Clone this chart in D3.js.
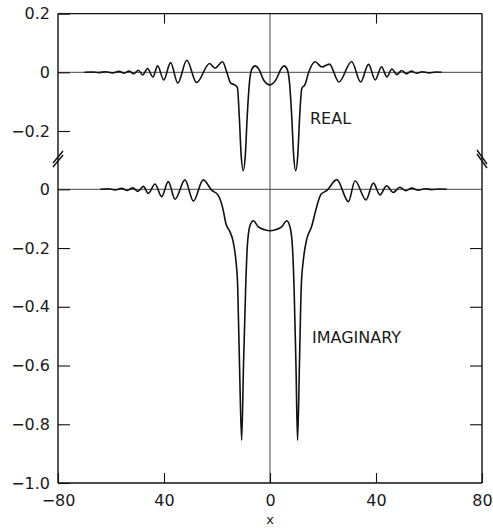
<!DOCTYPE html>
<html>
<head>
<meta charset="UTF-8">
<script src="https://d3js.org/d3.v7.min.js"></script>
<style>
  body { margin: 0; background: #fff; }
  svg { display: block; }
  text { font-family: "DejaVu Sans", "Liberation Sans", sans-serif; fill: #1a1a1a; }
  .curve { fill: none; stroke: #111; stroke-width: 1.6; stroke-linejoin: round; }
  .frame { stroke: #111; stroke-width: 1.4; }
  .ref { stroke: #444; stroke-width: 1; }
  .axis path { display: none; }
  .axis line { stroke: #111; stroke-width: 1.1; }
  .axis text { font-size: 16px; }
</style>
</head>
<body>
<svg id="chart" width="493" height="530"></svg>
<script>
// values
const realX = [-70, -67, -64.5, -62, -59.5, -57, -55, -53.2, -51.4, -49.7, -48, -46.2, -44.2, -42.4, -40.1,
  -37.5, -34.8, -31.4, -27.7, -22.8, -20.8, -17.9, -16.3, -14.8, -13.3, -12.3, -11.6, -10.9, -10.1, -9.3,
  -8.6, -7.7, -6.9, -5.6, -4.3, -2.3, 0, 2.2, 4.2, 5.3, 6.5, 7.3, 8.2, 8.9, 9.7, 10.5, 11.2, 12.0, 13.2,
  14.6, 17.0, 19.6, 22.4, 26.0, 30.8, 34.2, 37.2, 39.7, 42.1, 44.1, 46.0, 47.9, 49.7, 51.5, 53.3, 55.3,
  57.5, 60, 62.5, 64.8];
const realV = [0, 0.001, -0.001, 0.002, -0.002, 0.003, -0.003, 0.004, -0.005, 0.007, -0.009, 0.013, -0.016, 0.022, -0.026,
  0.033, -0.037, 0.041, -0.035, 0.030, 0.014, 0.036, 0.0, -0.037, -0.043, -0.052, -0.15, -0.28, -0.335, -0.28,
  -0.15, -0.03, 0.010, 0.022, 0.012, -0.028, -0.043, -0.026, 0.012, 0.022, 0.010, -0.03, -0.15, -0.28, -0.335, -0.28, -0.15, -0.055, -0.042,
  0.0, 0.036, 0.018, 0.028, -0.033, 0.037, -0.033, 0.027, -0.026, 0.019, -0.016, 0.011, -0.008, 0.006, -0.005, 0.004, -0.003,
  0.002, -0.002, 0.001, 0];

const imagX = [-64, -61, -58.5, -56, -53.8, -51.8, -49.8, -47.8, -45.9, -43.4, -40.9, -38.4, -35.8, -32.1, -28.9,
  -25.2, -22.0, -19.6, -17.8, -16.6, -15.1, -13.9, -12.9, -12.2, -11.5, -10.7, -10.0, -9.2, -8.6, -7.6,
  -6.3, -4.5, -2, 0, 2, 4.5, 6.3, 7.6, 8.5, 9.1, 9.8, 10.4, 11.1, 11.8, 12.6, 13.8, 15.7, 17.6, 19.2,
  21.5, 25.2, 29.6, 32.1, 36.2, 39, 41.5, 44, 46.5, 49, 51.3, 53.5, 56, 58.5, 61, 64, 66.7];
const imagV = [0, 0.002, -0.002, 0.003, -0.004, 0.005, -0.007, 0.010, -0.014, 0.018, -0.025, 0.026, -0.034, 0.032, -0.040,
  0.032, -0.003, -0.020, -0.065, -0.118, -0.145, -0.178, -0.24, -0.33, -0.6, -0.855, -0.6, -0.34, -0.2, -0.125,
  -0.107, -0.127, -0.138, -0.141, -0.138, -0.127, -0.107, -0.13, -0.2, -0.34, -0.6, -0.855, -0.6, -0.33, -0.24, -0.172, -0.127, -0.06, -0.018,
  -0.004, 0.033, -0.042, 0.029, -0.036, 0.021, -0.019, 0.012, -0.011, 0.007, -0.005, 0.004, -0.003, 0.002, -0.001, 0.001, 0];

const xTicks = [-80, -40, 0, 40, 80];
const xTickLabels = ["\u221280", "40", "0", "40", "80"];
const realTicks = [0.2, 0, -0.2];
const realTickLabels = ["0.2", "0", "\u22120.2"];
const imagTicks = [0, -0.2, -0.4, -0.6, -0.8, -1.0];
const imagTickLabels = ["0", "\u22120.2", "\u22120.4", "\u22120.6", "\u22120.8", "\u22121.0"];

const svg = d3.select("#chart");

const x = d3.scaleLinear().domain([-80, 80]).range([58, 482]);
const yR = d3.scaleLinear().domain([0, 0.2]).range([72.3, 13.6]);
const yI = d3.scaleLinear().domain([-1, 0]).range([483, 189.3]);

const yTop = yR(0.2), yBot = yI(-1), xLeft = x(-80), xRight = x(80);

// reference lines
svg.append("line").attr("class", "ref")
  .attr("x1", xLeft).attr("x2", xRight).attr("y1", yR(0)).attr("y2", yR(0));
svg.append("line").attr("class", "ref")
  .attr("x1", xLeft).attr("x2", xRight).attr("y1", yI(0)).attr("y2", yI(0));
svg.append("line").attr("class", "ref")
  .attr("x1", x(0)).attr("x2", x(0)).attr("y1", yTop).attr("y2", yBot);

// frame
[[xLeft, yTop, xRight, yTop], [xLeft, yBot, xRight, yBot], [xLeft, yTop, xLeft, yBot], [xRight, yTop, xRight, yBot]]
  .forEach(d => svg.append("line").attr("class", "frame")
    .attr("x1", d[0]).attr("y1", d[1]).attr("x2", d[2]).attr("y2", d[3]));

// axis break marks
const yb = 159;
[-2, 2].forEach(o => {
  svg.append("line").attr("class", "frame")
    .attr("x1", xLeft - 5).attr("y1", yb + o + 6).attr("x2", xLeft + 5).attr("y2", yb + o - 6);
  svg.append("line").attr("class", "frame")
    .attr("x1", xRight - 5).attr("y1", yb + o - 7).attr("x2", xRight + 5).attr("y2", yb + o + 7);
});

// axes
svg.append("g").attr("class", "axis")
  .attr("transform", `translate(${xLeft},0)`)
  .call(d3.axisLeft(yR).tickValues(realTicks).tickSize(-12).tickPadding(8)
    .tickFormat((d, i) => realTickLabels[i]));
svg.append("g").attr("class", "axis")
  .attr("transform", `translate(${xLeft},0)`)
  .call(d3.axisLeft(yI).tickValues(imagTicks).tickSize(-12).tickPadding(8)
    .tickFormat((d, i) => imagTickLabels[i]));
svg.append("g").attr("class", "axis")
  .attr("transform", `translate(${xRight},0)`)
  .call(d3.axisRight(yI).tickValues(imagTicks.slice(1, 5)).tickSize(-12).tickFormat(""));
svg.append("g").attr("class", "axis")
  .attr("transform", `translate(0,${yBot})`)
  .call(d3.axisBottom(x).tickValues(xTicks).tickSize(-10).tickPadding(11.5)
    .tickFormat((d, i) => xTickLabels[i]));
svg.append("g").attr("class", "axis")
  .attr("transform", `translate(0,${yTop})`)
  .call(d3.axisTop(x).tickValues([-40, 40]).tickSize(-10).tickFormat(""));

svg.append("text").attr("x", x(0)).attr("y", 524)
  .attr("text-anchor", "middle").style("font-size", "13px").text("x");

// curves
const line = (ys) => d3.line().x(d => x(d[0])).y(d => ys(d[1])).curve(d3.curveMonotoneX);
svg.append("path").attr("class", "curve")
  .attr("d", line(yR)(d3.zip(realX, realV)));
svg.append("path").attr("class", "curve")
  .attr("d", line(yI)(d3.zip(imagX, imagV)));

svg.append("text").attr("x", 310).attr("y", 124).style("font-size", "16px").text("REAL");
svg.append("text").attr("x", 312).attr("y", 343).style("font-size", "16px").text("IMAGINARY");
</script>
</body>
</html>
